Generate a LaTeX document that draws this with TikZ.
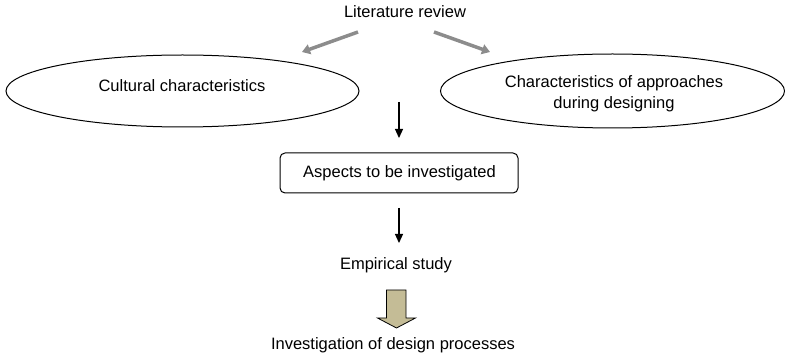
\documentclass[tikz,border=0pt]{standalone}
\usepackage{fontspec}
\setmainfont{Liberation Sans}
\usetikzlibrary{shapes.geometric,arrows.meta}
\definecolor{khaki}{RGB}{196,188,150}
\definecolor{arrgray}{RGB}{140,140,140}
\begin{document}
\begin{tikzpicture}[x=1pt,y=-1pt,
  txt/.style={font=\fontsize{16.5}{21}\selectfont, inner sep=0pt, align=center},
  oval/.style={draw, line width=1pt, ellipse, inner sep=0pt},
  grayarr/.style={draw=arrgray, line width=3.5pt, -{Triangle[length=8pt,width=10pt]}},
  blackarr/.style={draw, line width=1.2pt, -{Triangle[length=9pt,width=8pt]}}]
\useasboundingbox (0,0) rectangle (785,358);
\node[txt] (lit) at (405,12) {Literature review};
\node[oval, minimum width=353pt, minimum height=72pt] (cult) at (182.5,91) {};
\node[txt] (cultt) at (182,86) {Cultural characteristics};
\node[oval, minimum width=344pt, minimum height=74pt] (appr) at (612.5,91) {};
\node[txt] (apprt) at (614,94) {Characteristics of approaches\\during designing};
\coordinate (l1) at (358,32); \coordinate (l2) at (302,52);
\coordinate (r1) at (434,32); \coordinate (r2) at (490,52);
\draw[grayarr] (l1) -- (l2);
\draw[grayarr] (r1) -- (r2);
\node[draw, line width=1pt, rounded corners=5pt, minimum width=238pt, minimum height=40pt] (asp) at (399,173) {};
\node[txt] (aspt) at (399.5,173) {Aspects to be investigated};
\coordinate (a1s) at (399,102); \coordinate (a1e) at (399,138);
\draw[blackarr] (a1s) -- (a1e);
\coordinate (a2s) at (399,208); \coordinate (a2e) at (399,243);
\draw[blackarr] (a2s) -- (a2e);
\node[txt] (emp) at (396,265) {Empirical study};
\draw[line width=0.8pt, fill=khaki, line join=miter] (386.5,290) -- (406,290) -- (406,318) -- (415.5,318) -- (396.5,328) -- (377.5,318) -- (386.5,318) -- cycle;
\node[txt] (inv) at (393,345) {Investigation of design processes};
\end{tikzpicture}
\end{document}
